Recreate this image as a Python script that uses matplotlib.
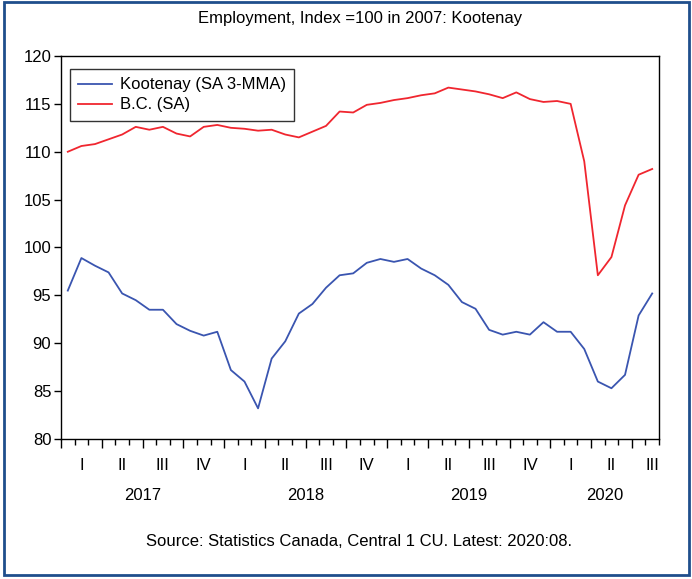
import matplotlib
matplotlib.use("Agg")
import matplotlib.pyplot as plt
import matplotlib.patches as mpatches
import numpy as np

plt.rcParams['font.family'] = ['Liberation Sans', 'DejaVu Sans']

# monthly, Jan 2017 .. Aug 2020
kootenay = [95.5, 98.9, 98.1, 97.4, 95.2, 94.5, 93.5, 93.5, 92.0, 91.3, 90.8, 91.2,
            87.2, 86.0, 83.2, 88.4, 90.2, 93.1, 94.1, 95.8, 97.1, 97.3,
            98.4, 98.8, 98.5, 98.8, 97.8, 97.1, 96.1, 94.3, 93.6, 91.4,
            90.9, 91.2, 90.9, 92.2, 91.2, 91.2, 89.4, 86.0, 85.3, 86.7,
            92.9, 95.2]
bc = [110.0, 110.6, 110.8, 111.3, 111.8, 112.6, 112.3, 112.6, 111.9, 111.6, 112.6, 112.8,
      112.5, 112.4, 112.2, 112.3, 111.8, 111.5, 112.1, 112.7, 114.2, 114.1,
      114.9, 115.1, 115.4, 115.6, 115.9, 116.1, 116.7, 116.5, 116.3, 116.0,
      115.6, 116.2, 115.5, 115.2, 115.3, 115.0, 109.0, 97.1, 99.0, 104.4,
      107.6, 108.2]
years = ['2017', '2018', '2019', '2020']
quarters = ['I', 'II', 'III', 'IV']

fig = plt.figure(figsize=(6.92, 5.79), dpi=100)
ax = fig.add_axes([61 / 692, 140 / 579, 598 / 692, 383 / 579])

x = np.arange(len(bc)) + 0.5
ax.plot(x, kootenay, color='#3A55B0', lw=1.3, label='Kootenay (SA 3-MMA)')
ax.plot(x, bc, color='#F0262F', lw=1.3, label='B.C. (SA)')

n = len(bc)
ax.set_xlim(0, n)
ax.set_ylim(80, 120)
ax.set_yticks(np.arange(80, 121, 5))
ax.set_xticks(np.arange(0, n + 1, 3))
ax.set_xticks(np.arange(0, n + 1), minor=True)
ax.set_xticklabels([])
ax.tick_params(axis='x', which='major', direction='out', length=6.5, width=1)
ax.tick_params(axis='x', which='minor', direction='out', length=4, width=1)
ax.tick_params(axis='y', direction='out', length=5, width=1, pad=2, labelsize=12)
for s in ax.spines.values():
    s.set_linewidth(1)

# quarter and year labels
tr = ax.get_xaxis_transform()
for q in range(int(np.ceil(n / 3))):
    ax.text(q * 3 + 1.5, -26 / 383, quarters[q % 4], transform=tr,
            ha='center', va='center', fontsize=12)
for i, yr in enumerate(years):
    start = i * 12
    end = min(start + 12, n)
    ax.text((start + end) / 2, -57 / 383, yr, transform=tr,
            ha='center', va='center', fontsize=12)

leg = ax.legend(loc='upper left', bbox_to_anchor=(9 / 598, 1 - 13 / 383),
                fontsize=12, frameon=True, fancybox=False, borderaxespad=0,
                handlelength=2.0, handletextpad=0.5, borderpad=0.5, labelspacing=0.3)
leg.get_frame().set_edgecolor('black')
leg.get_frame().set_linewidth(1)

fig.text(360 / 692, 1 - 18 / 579, 'Employment, Index =100 in 2007: Kootenay',
         ha='center', va='center', fontsize=12)
fig.text(359 / 692, 1 - 541 / 579, 'Source: Statistics Canada, Central 1 CU. Latest: 2020:08.',
         ha='center', va='center', fontsize=12)

fig.patches.append(mpatches.Rectangle((4 / 692, 4 / 579), 685 / 692, 573 / 579,
                                      transform=fig.transFigure, fill=False,
                                      edgecolor='#1F4E8C', lw=2))

fig.savefig('out.png', dpi=100)
